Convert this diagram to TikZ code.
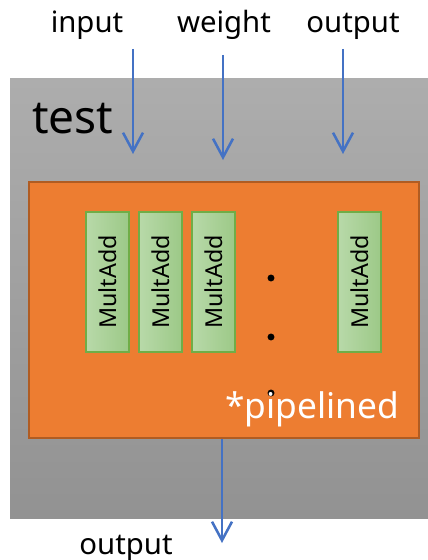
\documentclass[tikz,border=0pt]{standalone}
\usepackage{fontspec}
\setmainfont{Noto Sans}
\usetikzlibrary{arrows.meta}
\definecolor{arrowblue}{HTML}{4472C4}
\definecolor{graytop}{HTML}{ADADAD}
\definecolor{graybot}{HTML}{929292}
\definecolor{orangefill}{HTML}{ED7D31}
\definecolor{orangeline}{HTML}{B05C22}
\definecolor{greenleft}{HTML}{B8D9A9}
\definecolor{greenright}{HTML}{9CC987}
\definecolor{greenline}{HTML}{70AD47}
\tikzset{
  graybox/.style={inner sep=0pt, top color=graytop, bottom color=graybot, minimum width=313.5pt, minimum height=329.25pt},
  orangebox/.style={inner sep=0pt, fill=orangefill, draw=orangeline, line width=1.5pt, minimum width=292.5pt, minimum height=192pt},
  unitbox/.style={inner sep=0pt, left color=greenleft, right color=greenright, draw=greenline, line width=0.8pt, minimum width=32.25pt, minimum height=105pt},
  unitlabel/.style={rotate=90, inner sep=0pt, font=\fontsize{17.5pt}{20pt}\selectfont},
  iolabel/.style={inner sep=0pt, anchor=base, font=\fontsize{22pt}{26pt}\selectfont},
  flow/.style={draw=arrowblue, line width=1.9pt, -{Straight Barb[length=14pt,width=15pt,line width=1.9pt]}},
  dotmark/.style={circle, fill=black, inner sep=0pt, minimum size=5.2pt}
}
\begin{document}
\begin{tikzpicture}[x=0.75pt,y=-0.75pt]
\useasboundingbox (0,0) rectangle (428,560);
\node[graybox] (test) at (219,298.5) {};
\node[anchor=base west, inner sep=0pt, font=\fontsize{34.5pt}{40pt}\selectfont] (testlabel) at (32,133) {test};
\node[orangebox] (core) at (224,310) {};
\foreach \i/\x in {1/107.5,2/160.5,3/213.5,4/359.5}{
  \node[unitbox] (u\i) at (\x,282) {};
  \node[unitlabel] (l\i) at (u\i.center) {MultAdd};
}
\node[dotmark] (d1) at (271,278) {};
\node[dotmark] (d2) at (271,337) {};
\node[dotmark] (d3) at (271,393) {};
\node[anchor=base west, inner sep=0pt, text=white, font=\fontsize{26.5pt}{30pt}\selectfont] (pipe) at (225,418) {*pipelined};
\node[iolabel] (in) at (87,33) {input};
\node[iolabel] (w) at (224,33) {weight};
\node[iolabel] (out) at (353,33) {output};
\node[iolabel] (res) at (126,554) {output};
\coordinate (a1s) at (133,49);
\coordinate (a1e) at (133,154);
\coordinate (a2s) at (223,55);
\coordinate (a2e) at (223,160);
\coordinate (a3s) at (343,49);
\coordinate (a3e) at (343,154);
\coordinate (a4e) at (222,543);
\draw[flow] (a1s) -- (a1e);
\draw[flow] (a2s) -- (a2e);
\draw[flow] (a3s) -- (a3e);
\draw[flow] (core.south -| a4e) -- (a4e);
\end{tikzpicture}
\end{document}
